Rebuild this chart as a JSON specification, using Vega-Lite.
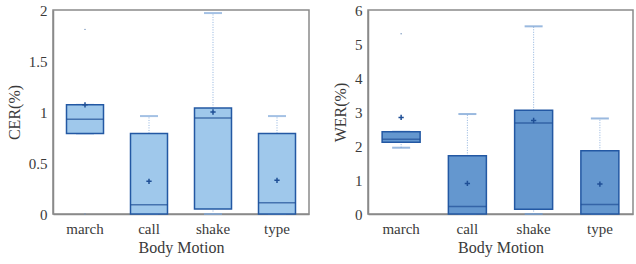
{
  "$schema": "https://vega.github.io/schema/vega-lite/v6.json",
  "padding": {"left": 5, "top": 2, "right": 4, "bottom": 4},
  "spacing": 21,
  "background": "white",
  "datasets": {
    "cer": [
      {"m": "march", "lo": 0.79, "q1": 0.79, "med": 0.93, "q3": 1.07, "hi": 1.07, "mean": 1.07},
      {"m": "call", "lo": 0, "q1": 0, "med": 0.09, "q3": 0.79, "hi": 0.96, "mean": 0.32},
      {"m": "shake", "lo": 0, "q1": 0.05, "med": 0.94, "q3": 1.04, "hi": 1.97, "mean": 1.0},
      {"m": "type", "lo": 0, "q1": 0, "med": 0.11, "q3": 0.79, "hi": 0.96, "mean": 0.33}
    ],
    "cer_out": [
      {"m": "march", "v": 1.81},
      {"m": "march", "v": 0.0}
    ],
    "wer": [
      {"m": "march", "lo": 1.95, "q1": 2.11, "med": 2.2, "q3": 2.42, "hi": 2.42, "mean": 2.84},
      {"m": "call", "lo": 0, "q1": 0, "med": 0.22, "q3": 1.71, "hi": 2.94, "mean": 0.9},
      {"m": "shake", "lo": 0, "q1": 0.14, "med": 2.68, "q3": 3.05, "hi": 5.52, "mean": 2.75},
      {"m": "type", "lo": 0, "q1": 0, "med": 0.28, "q3": 1.86, "hi": 2.81, "mean": 0.88}
    ],
    "wer_out": [
      {"m": "march", "v": 5.3}
    ]
  },
  "config": {
    "font": "Liberation Serif",
    "view": {"stroke": "#8a8a8a", "strokeWidth": 1.5},
    "axis": {
      "labelFont": "Liberation Serif",
      "labelFontSize": 15,
      "labelColor": "#3a3a3a",
      "labelOverlap": false,
      "titleFont": "Liberation Serif",
      "titleFontSize": 16,
      "titleFontWeight": "normal",
      "titleColor": "#3a3a3a",
      "domainColor": "#8a8a8a",
      "domainWidth": 1.5,
      "tickColor": "#8a8a8a",
      "grid": false
    }
  },
  "hconcat": [
    {
      "width": 256,
      "height": 204,
      "data": {"name": "cer"},
      "encoding": {
        "x": {"field": "m", "type": "nominal", "sort": ["march", "call", "shake", "type"],
              "scale": {"paddingInner": 0, "paddingOuter": 0},
              "axis": {"title": "Body Motion", "labelAngle": 0, "ticks": false, "labelPadding": 7, "titlePadding": 3}},
        "y": {"type": "quantitative", "scale": {"domain": [0, 2]},
              "axis": {"title": "CER(%)", "values": [0, 0.5, 1, 1.5, 2], "format": "~g", "labelOverlap": false, "tickSize": 0, "labelPadding": 6, "titlePadding": 6}}
      },
      "layer": [
        {
          "mark": {"type": "rule", "color": "#8fb2dd", "strokeDash": [1, 1.5], "strokeWidth": 1},
          "encoding": {"y": {"field": "q3", "type": "quantitative"}, "y2": {"field": "hi"}}
        },
        {
          "mark": {"type": "rule", "color": "#8fb2dd", "strokeDash": [1, 1.5], "strokeWidth": 1},
          "encoding": {"y": {"field": "lo", "type": "quantitative"}, "y2": {"field": "q1"}}
        },
        {
          "mark": {"type": "tick", "color": "#7ea6d8", "size": 18, "thickness": 2},
          "encoding": {"y": {"field": "hi", "type": "quantitative"}}
        },
        {
          "mark": {"type": "tick", "color": "#7ea6d8", "size": 18, "thickness": 2},
          "encoding": {"y": {"field": "lo", "type": "quantitative"}}
        },
        {
          "mark": {"type": "bar", "width": 37, "fill": "#9fc8eb", "stroke": "#2358a3", "strokeWidth": 1.5},
          "encoding": {"y": {"field": "q1", "type": "quantitative"}, "y2": {"field": "q3"}}
        },
        {
          "mark": {"type": "tick", "color": "#1f4f96", "size": 37, "thickness": 1.5},
          "encoding": {"y": {"field": "med", "type": "quantitative"}}
        },
        {
          "mark": {"type": "point", "shape": "M-1,0L1,0M0,-1L0,1", "size": 28, "stroke": "#1f4f96", "strokeWidth": 1.5, "filled": false, "opacity": 1},
          "encoding": {"y": {"field": "mean", "type": "quantitative"}}
        },
        {
          "data": {"name": "cer_out"},
          "mark": {"type": "point", "shape": "circle", "size": 2, "filled": true, "color": "#6f8fb8", "opacity": 1},
          "encoding": {"y": {"field": "v", "type": "quantitative"}}
        }
      ]
    },
    {
      "width": 265,
      "height": 204,
      "data": {"name": "wer"},
      "encoding": {
        "x": {"field": "m", "type": "nominal", "sort": ["march", "call", "shake", "type"],
              "scale": {"paddingInner": 0, "paddingOuter": 0},
              "axis": {"title": "Body Motion", "labelAngle": 0, "ticks": false, "labelPadding": 7, "titlePadding": 3}},
        "y": {"type": "quantitative", "scale": {"domain": [0, 6]},
              "axis": {"title": "WER(%)", "values": [0, 1, 2, 3, 4, 5, 6], "format": "~g", "labelOverlap": false, "tickSize": 0, "labelPadding": 6, "titlePadding": 6}}
      },
      "layer": [
        {
          "mark": {"type": "rule", "color": "#8fb2dd", "strokeDash": [1, 1.5], "strokeWidth": 1},
          "encoding": {"y": {"field": "q3", "type": "quantitative"}, "y2": {"field": "hi"}}
        },
        {
          "mark": {"type": "rule", "color": "#8fb2dd", "strokeDash": [1, 1.5], "strokeWidth": 1},
          "encoding": {"y": {"field": "lo", "type": "quantitative"}, "y2": {"field": "q1"}}
        },
        {
          "mark": {"type": "tick", "color": "#6f9bd1", "size": 18, "thickness": 2},
          "encoding": {"y": {"field": "hi", "type": "quantitative"}}
        },
        {
          "mark": {"type": "tick", "color": "#6f9bd1", "size": 18, "thickness": 2},
          "encoding": {"y": {"field": "lo", "type": "quantitative"}}
        },
        {
          "mark": {"type": "bar", "width": 38, "fill": "#6497cf", "stroke": "#2358a3", "strokeWidth": 1.5},
          "encoding": {"y": {"field": "q1", "type": "quantitative"}, "y2": {"field": "q3"}}
        },
        {
          "mark": {"type": "tick", "color": "#1f4f96", "size": 38, "thickness": 1.5},
          "encoding": {"y": {"field": "med", "type": "quantitative"}}
        },
        {
          "mark": {"type": "point", "shape": "M-1,0L1,0M0,-1L0,1", "size": 28, "stroke": "#1f4f96", "strokeWidth": 1.5, "filled": false, "opacity": 1},
          "encoding": {"y": {"field": "mean", "type": "quantitative"}}
        },
        {
          "data": {"name": "wer_out"},
          "mark": {"type": "point", "shape": "circle", "size": 2, "filled": true, "color": "#6f8fb8", "opacity": 1},
          "encoding": {"y": {"field": "v", "type": "quantitative"}}
        }
      ]
    }
  ]
}
